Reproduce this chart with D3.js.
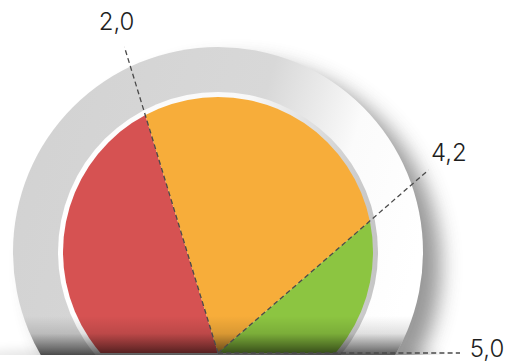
<!DOCTYPE html>
<html><head><meta charset="utf-8">
<script src="https://cdn.jsdelivr.net/npm/d3@7"></script>
<style>html,body{margin:0;padding:0;background:#fff;overflow:hidden}</style>
</head><body><svg id="c" width="515" height="362"></svg>
<script>
// ---- data ----
const thresholds = [0, 2.0, 4.2, 5.0];          // band boundaries on the gauge
const bandNames  = ["low", "medium", "high"];    // bands between thresholds
const tickValues = [2.0, 4.2, 5.0];
const tickLabels = ["2,0", "4,2", "5,0"];

// ---- layout / style ----
const W = 515, H = 362;
const cx = 218, pivotY = 353, cy = 252;
const rPie = 155, rRecess = 160, rRing = 205, floorY = 355;
const bandColors = ["#d65252", "#f7ad3a", "#8cc541"];
const leaderLen = [320, 279, 242];
const labelGap = 27;

const deg = Math.PI / 180;
const angle = d3.scaleLinear().domain(thresholds).range([-90, -17, 49, 90].map(d => d * deg));

const svg = d3.select("#c");
const defs = svg.append("defs");

defs.append("clipPath").attr("id", "scene").append("rect")
  .attr("x", 0).attr("y", 0).attr("width", W).attr("height", floorY);
defs.append("clipPath").attr("id", "pieClip").append("circle")
  .attr("cx", cx).attr("cy", cy).attr("r", rPie);

const ringGrad = defs.append("linearGradient").attr("id", "ringGrad")
  .attr("gradientUnits", "userSpaceOnUse")
  .attr("x1", 13).attr("y1", 120).attr("x2", 423).attr("y2", 240);
[[0, "#d2d2d2"], [0.55, "#d8d8d8"], [0.68, "#ebebeb"], [0.78, "#fbfbfb"], [1, "#ffffff"]]
  .forEach(([o, c]) => ringGrad.append("stop").attr("offset", o).attr("stop-color", c));

const recessGrad = defs.append("linearGradient").attr("id", "recessGrad")
  .attr("gradientUnits", "userSpaceOnUse")
  .attr("x1", cx - rRecess).attr("y1", 0).attr("x2", cx + rRecess).attr("y2", 0);
[[0, "#ffffff"], [0.6, "#f8f8f8"], [0.85, "#d8d8d8"], [1, "#c4c4c4"]]
  .forEach(([o, c]) => recessGrad.append("stop").attr("offset", o).attr("stop-color", c));

const bottomGrad = defs.append("linearGradient").attr("id", "bottomGrad")
  .attr("gradientUnits", "userSpaceOnUse")
  .attr("x1", 0).attr("y1", 316).attr("x2", 0).attr("y2", floorY);
[[0, 0], [0.45, 0.12], [0.8, 0.45], [1, 0.65]]
  .forEach(([o, a]) => bottomGrad.append("stop").attr("offset", o)
    .attr("stop-color", "#000").attr("stop-opacity", a));

defs.append("filter").attr("id", "blur").attr("x", "-30%").attr("y", "-30%")
  .attr("width", "160%").attr("height", "160%")
  .append("feGaussianBlur").attr("stdDeviation", 10);
defs.append("filter").attr("id", "blurFloor").attr("x", "-30%").attr("y", "-200%")
  .attr("width", "160%").attr("height", "500%")
  .append("feGaussianBlur").attr("stdDeviation", 6);

const scene = svg.append("g").attr("clip-path", "url(#scene)");

// floor shadow
scene.append("ellipse").attr("cx", cx - 10).attr("cy", floorY + 2)
  .attr("rx", 235).attr("ry", 10).attr("fill", "#000").attr("opacity", 0.12)
  .attr("filter", "url(#blurFloor)");

// outer drop shadow
scene.append("circle").attr("cx", cx + 18).attr("cy", cy + 14).attr("r", rRing)
  .attr("fill", "#555").attr("opacity", 0.6).attr("filter", "url(#blur)");

// plate ring
scene.append("circle").attr("cx", cx).attr("cy", cy).attr("r", rRing).attr("fill", "url(#ringGrad)");
scene.append("circle").attr("cx", cx).attr("cy", cy).attr("r", rRecess).attr("fill", "url(#recessGrad)");

// bands
const bands = bandNames.map((name, i) => ({ name, from: thresholds[i], to: thresholds[i + 1], color: bandColors[i] }));
const arc = d3.arc().innerRadius(0).outerRadius(420)
  .startAngle(d => angle(d.from)).endAngle(d => angle(d.to));
scene.append("g").attr("clip-path", "url(#pieClip)")
  .append("g").attr("transform", `translate(${cx},${pivotY})`)
  .selectAll("path").data(bands).join("path")
  .attr("d", arc).attr("fill", d => d.color);

// bottom darkening
scene.append("circle").attr("cx", cx).attr("cy", cy).attr("r", rRing).attr("fill", "url(#bottomGrad)");

// leaders
const ticks = tickValues.map((v, i) => ({ v, label: tickLabels[i], len: leaderLen[i] }));
const pt = (a, r) => [cx + r * Math.sin(a), pivotY - r * Math.cos(a)];
svg.append("g").selectAll("line").data(ticks).join("line")
  .attr("x1", cx).attr("y1", pivotY)
  .attr("x2", d => pt(angle(d.v), d.len)[0])
  .attr("y2", d => pt(angle(d.v), d.len)[1])
  .attr("stroke", "#4a4a4a").attr("stroke-width", 1.3)
  .attr("stroke-dasharray", "5,3.2");

svg.append("g").selectAll("text").data(ticks).join("text")
  .attr("x", d => pt(angle(d.v), d.len + labelGap)[0])
  .attr("y", d => Math.min(pt(angle(d.v), d.len + labelGap)[1], 348))
  .attr("text-anchor", "middle").attr("dominant-baseline", "central")
  .attr("font-family", "Inter, Lato, sans-serif").attr("font-weight", 300)
  .attr("font-size", 24).attr("fill", "#1e1e1e")
  .text(d => d.label);
</script></body></html>
